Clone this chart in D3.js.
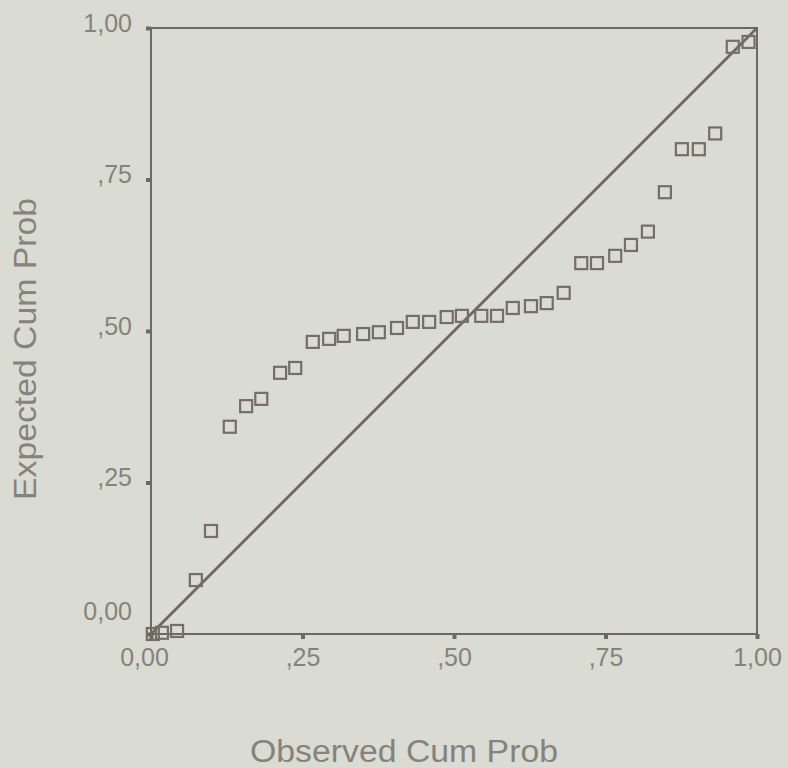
<!DOCTYPE html>
<head>
    <meta charset="utf-8">
    <title>P-P plot</title>
    <script src="https://d3js.org/d3.v7.min.js"></script>
    <style>
        body { margin: 0; background: #dadbd3; }
        svg { display: block; font-family: "Liberation Sans", Arial, sans-serif; }
    </style>
</head>
<body>
    <script>
        // observed vs expected cumulative probabilities
        const observed = [0.003, 0.018, 0.043, 0.074, 0.099, 0.130, 0.157, 0.182, 0.213, 0.238,
            0.267, 0.294, 0.318, 0.350, 0.376, 0.406, 0.432, 0.459, 0.488, 0.513,
            0.545, 0.571, 0.597, 0.627, 0.653, 0.681, 0.710, 0.736, 0.766, 0.792,
            0.820, 0.848, 0.876, 0.904, 0.931, 0.960, 0.986]
        const expected = [0.000, 0.002, 0.005, 0.089, 0.170, 0.342, 0.376, 0.388, 0.431, 0.439,
            0.482, 0.487, 0.492, 0.495, 0.498, 0.505, 0.515, 0.515, 0.523, 0.525,
            0.525, 0.525, 0.538, 0.541, 0.546, 0.563, 0.612, 0.612, 0.624, 0.642,
            0.664, 0.729, 0.800, 0.800, 0.826, 0.969, 0.977]
        const ticks = [0, 0.25, 0.5, 0.75, 1]
        const tickLabels = ["0,00", ",25", ",50", ",75", "1,00"]

        const width = 788
        const height = 768
        const inkColor = "#6e6960"
        const textColor = "#85837c"

        const svg = d3.select("body").append("svg")
            .attr("width", width)
            .attr("height", height)

        const x = d3.scaleLinear().domain([0, 1]).range([151, 757])
        const y = d3.scaleLinear().domain([0, 1]).range([634, 28])

        // frame
        svg.append("rect")
            .attr("x", x(0)).attr("y", y(1))
            .attr("width", x(1) - x(0)).attr("height", y(0) - y(1))
            .attr("fill", "none")
            .attr("stroke", inkColor)
            .attr("stroke-width", 2)

        const fmt = (d) => tickLabels[ticks.indexOf(d)]

        const yAxis = svg.append("g")
            .attr("transform", `translate(${x(0)},0)`)
            .call(d3.axisLeft(y).tickValues(ticks).tickFormat(fmt).tickSize(5).tickPadding(14))
        const xAxis = svg.append("g")
            .attr("transform", `translate(0,${y(0)})`)
            .call(d3.axisBottom(x).tickValues(ticks).tickFormat(fmt).tickSize(5).tickPadding(9))

        for (const ax of [xAxis, yAxis]) {
            ax.select(".domain").remove()
            ax.selectAll(".tick line").attr("stroke", inkColor).attr("stroke-width", 4)
            ax.selectAll(".tick text")
                .attr("fill", textColor)
                .style("font-size", "25px")
                .style("font-family", "'Liberation Sans', Arial, sans-serif")
        }
        yAxis.selectAll(".tick text").attr("dy", "0.12em")
        // SPSS nudges the zero labels apart
        yAxis.selectAll(".tick").filter((d) => d === 0).select("text").attr("y", -18)
        xAxis.selectAll(".tick").filter((d) => d === 0).select("text").attr("x", -7)

        // reference diagonal
        svg.append("line")
            .attr("x1", x(0)).attr("y1", y(0))
            .attr("x2", x(1)).attr("y2", y(1))
            .attr("stroke", inkColor)
            .attr("stroke-width", 2.8)

        const pts = observed.map((o, i) => ({ o: o, e: expected[i] }))
        svg.append("g").selectAll("rect")
            .data(pts)
            .join("rect")
                .attr("x", (d) => x(d.o) - 6)
                .attr("y", (d) => y(d.e) - 6)
                .attr("width", 12)
                .attr("height", 12)
                .attr("fill", "none")
                .attr("stroke", "#746f66")
                .attr("stroke-width", 2.2)

        svg.append("text")
            .attr("x", 404)
            .attr("y", 762)
            .attr("text-anchor", "middle")
            .attr("fill", textColor)
            .attr("textLength", 308)
            .attr("lengthAdjust", "spacingAndGlyphs")
            .style("font-size", "31px")
            .text("Observed Cum Prob")

        svg.append("text")
            .attr("transform", "translate(36,349) rotate(-90)")
            .attr("text-anchor", "middle")
            .attr("fill", textColor)
            .attr("textLength", 302)
            .attr("lengthAdjust", "spacingAndGlyphs")
            .style("font-size", "31px")
            .text("Expected Cum Prob")
    </script>
</body>
